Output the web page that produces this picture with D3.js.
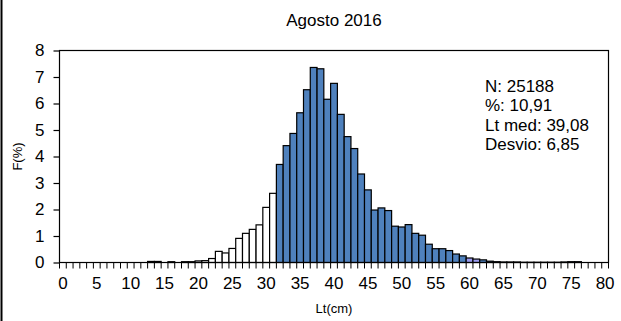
<!DOCTYPE html>
<html>
<head>
<meta charset="utf-8">
<script src="https://cdn.jsdelivr.net/npm/d3@7"></script>
<style>
  html, body { margin: 0; padding: 0; background: #fff; }
  svg { display: block; font-family: "Liberation Sans", Arial, sans-serif; }
</style>
</head>
<body>
<svg id="chart" width="621" height="321"></svg>
<script>
// Length classes (cm), one bar per class
const lengthClasses = d3.range(0, 81);

// Frequency (%) for each length class, 0 .. 80 cm
const frequency = [
  0, 0, 0, 0, 0, 0, 0, 0, 0, 0,
  0, 0, 0, 0.04, 0.04, 0, 0.03, 0, 0.03, 0.03,
  0.06, 0.07, 0.15, 0.42, 0.36, 0.53, 0.91, 1.10, 1.25, 1.42,
  2.08, 2.61, 3.70, 4.41, 4.87, 5.65, 6.52, 7.36, 7.31, 6.16,
  6.76, 5.59, 4.75, 4.30, 3.34, 2.74, 1.98, 2.06, 1.96, 1.37,
  1.34, 1.43, 1.10, 1.03, 0.69, 0.52, 0.52, 0.45, 0.32, 0.25,
  0.17, 0.13, 0.10, 0.05, 0.03, 0.02, 0.02, 0.02, 0.01, 0.01,
  0.01, 0.01, 0.01, 0.01, 0.02, 0.03, 0.03, 0, 0, 0, 0
];

const xTickLabels = [0, 5, 10, 15, 20, 25, 30, 35, 40, 45, 50, 55, 60, 65, 70, 75, 80];
const yTicks = [0, 1, 2, 3, 4, 5, 6, 7, 8];

const statLines = ["N: 25188", "%: 10,91", "Lt med: 39,08", "Desvio: 6,85"];
const title = "Agosto 2016";
const xTitle = "Lt(cm)";
const yTitle = "F(%)";

// Class boundaries for the fill groups
const minLegalLength = 32;
const highlightClasses = [60, 61];

const svg = d3.select("#chart");
const plot = { left: 59.5, right: 608.5, top: 50.5, bottom: 262.5 };

const x = d3.scaleBand()
  .domain(lengthClasses)
  .range([plot.left, plot.right])
  .padding(0);

const y = d3.scaleLinear()
  .domain([0, 8])
  .range([plot.bottom, plot.top]);

function fillFor(len) {
  if (len < minLegalLength) return "#ffffff";
  if (highlightClasses.includes(len)) return "#9a9aee";
  return "#4f81bd";
}

// Frame line on the left edge of the figure
svg.append("line")
  .attr("x1", 1.5).attr("x2", 1.5)
  .attr("y1", 0).attr("y2", 321)
  .attr("stroke", "#000").attr("stroke-width", 2);

// Bars
const data = lengthClasses.map((c, i) => ({ c, v: frequency[i] }));
svg.append("g")
  .selectAll("rect")
  .data(data.filter(d => d.v > 0))
  .join("rect")
  .attr("x", d => x(d.c))
  .attr("y", d => y(d.v))
  .attr("width", x.bandwidth())
  .attr("height", d => y(0) - y(d.v))
  .attr("fill", d => fillFor(d.c))
  .attr("stroke", "#000")
  .attr("stroke-width", 1.2);

// Plot area border
svg.append("rect")
  .attr("x", plot.left).attr("y", plot.top)
  .attr("width", plot.right - plot.left)
  .attr("height", plot.bottom - plot.top)
  .attr("fill", "none")
  .attr("stroke", "#000")
  .attr("stroke-width", 1.2);

// Y axis
const yAxis = svg.append("g")
  .attr("transform", `translate(${plot.left},0)`)
  .call(d3.axisLeft(y).tickValues(yTicks).tickSize(6).tickPadding(9).tickFormat(d3.format("d")));
yAxis.select(".domain").remove();
yAxis.selectAll("line").attr("stroke", "#000").attr("stroke-width", 1.2);
yAxis.selectAll("text")
  .attr("fill", "#000")
  .style("font-size", "17px")
  .style("font-family", "Liberation Sans, Arial, sans-serif");

// X axis: tick marks on class boundaries
const boundaries = lengthClasses.map(c => x(c)).concat([x(lengthClasses[lengthClasses.length - 1]) + x.bandwidth()]);
svg.append("g")
  .selectAll("line")
  .data(boundaries)
  .join("line")
  .attr("x1", d => d).attr("x2", d => d)
  .attr("y1", plot.bottom).attr("y2", plot.bottom + 6)
  .attr("stroke", "#000").attr("stroke-width", 1);

// X axis labels centred on classes
const xAxis = svg.append("g")
  .attr("transform", `translate(0,${plot.bottom})`)
  .call(d3.axisBottom(x).tickValues(xTickLabels).tickSize(0).tickPadding(14));
xAxis.select(".domain").remove();
xAxis.selectAll("text")
  .attr("fill", "#000")
  .style("font-size", "17px")
  .style("font-family", "Liberation Sans, Arial, sans-serif");

// Titles
svg.append("text")
  .attr("x", (plot.left + plot.right) / 2)
  .attr("y", 26)
  .attr("text-anchor", "middle")
  .style("font-size", "17px")
  .text(title);

svg.append("text")
  .attr("x", (plot.left + plot.right) / 2)
  .attr("y", 313)
  .attr("text-anchor", "middle")
  .style("font-size", "13px")
  .text(xTitle);

svg.append("text")
  .attr("transform", `translate(22,${(plot.top + plot.bottom) / 2}) rotate(-90)`)
  .attr("text-anchor", "middle")
  .style("font-size", "13px")
  .text(yTitle);

// Summary statistics
svg.append("g")
  .selectAll("text")
  .data(statLines)
  .join("text")
  .attr("x", 485)
  .attr("y", (d, i) => 91.5 + i * 19.6)
  .style("font-size", "17px")
  .text(d => d);
</script>
</body>
</html>
